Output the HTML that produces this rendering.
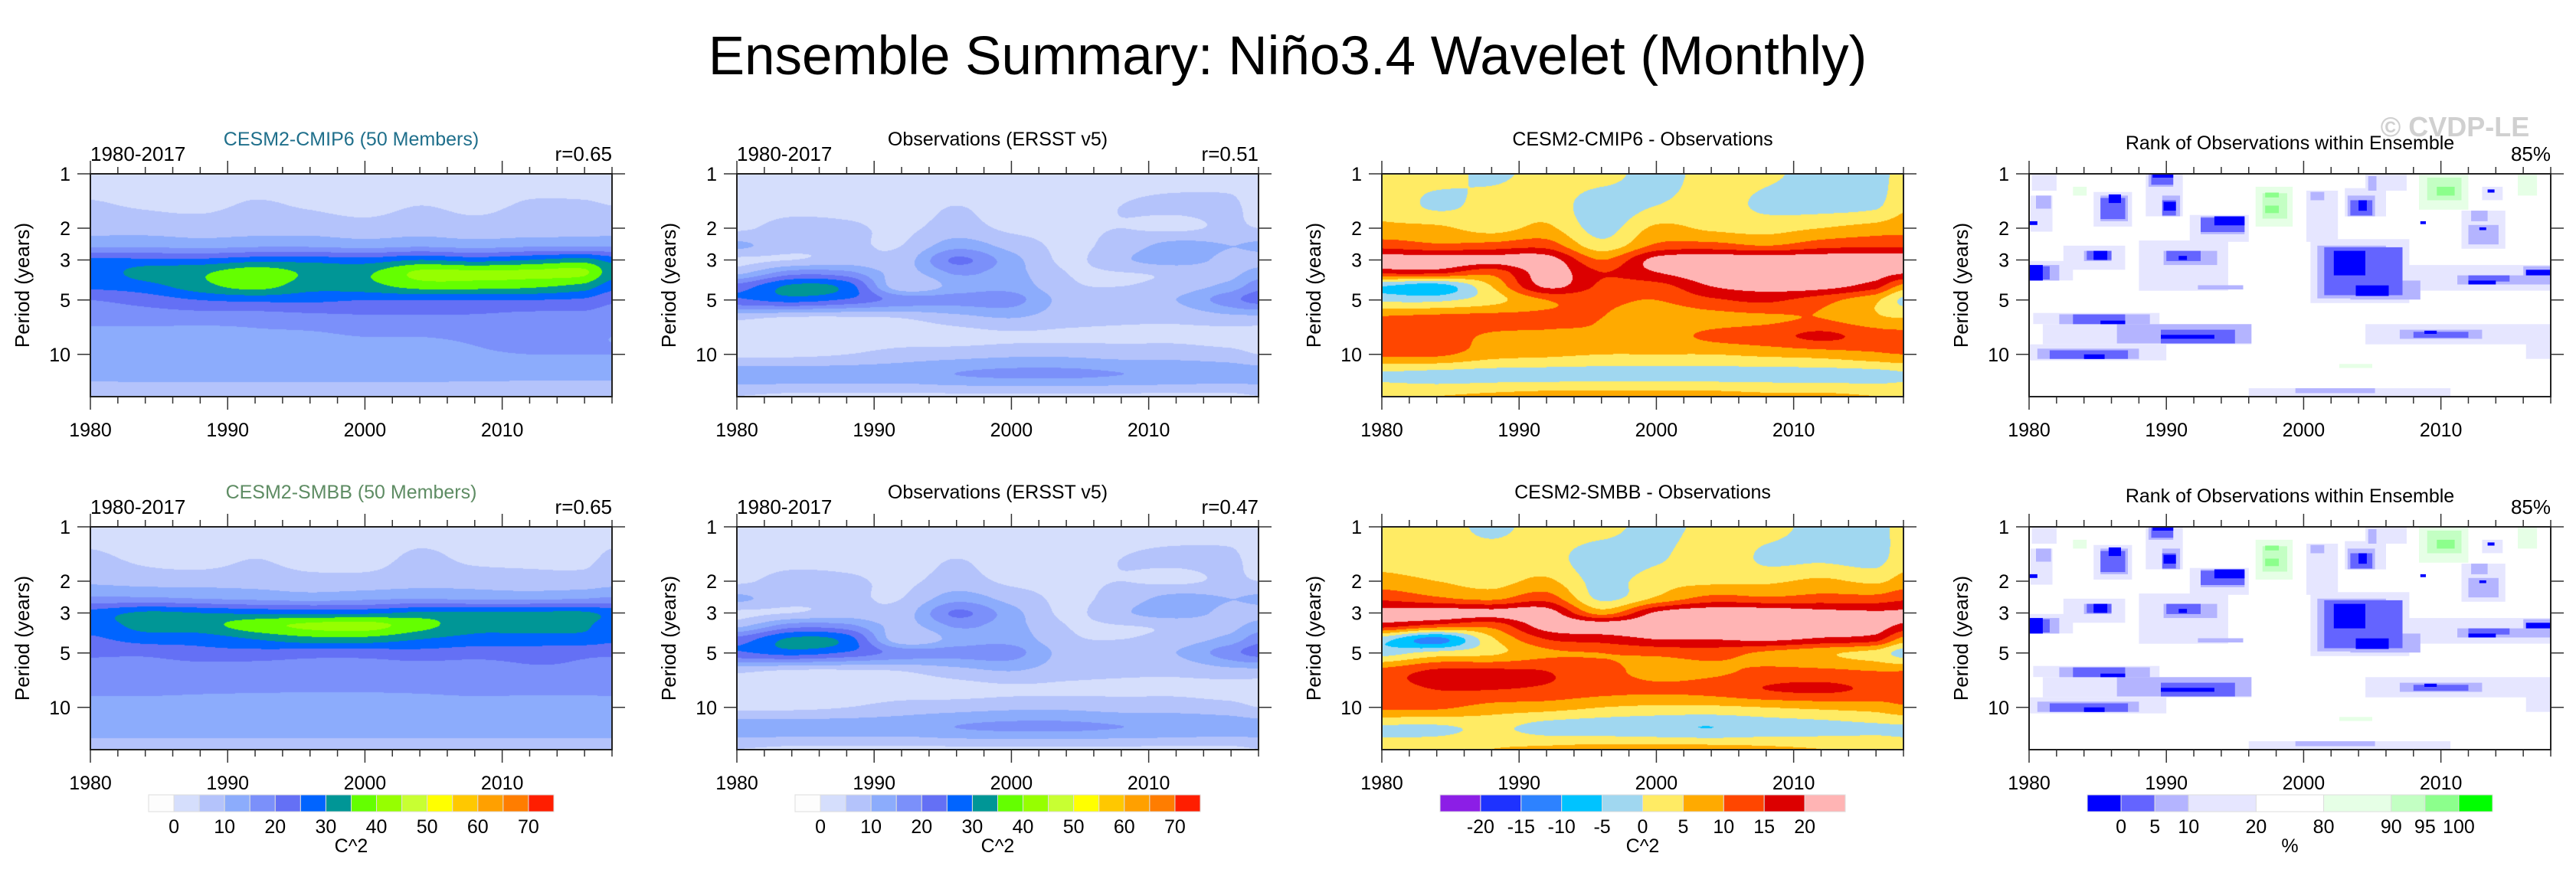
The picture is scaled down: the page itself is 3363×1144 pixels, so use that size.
<!DOCTYPE html>
<html><head><meta charset="utf-8">
<style>
html,body{margin:0;padding:0;background:#fff;}
#wrap{position:relative;width:3363px;height:1144px;overflow:hidden;background:#fff;}
canvas{position:absolute;}
svg{position:absolute;left:0;top:0;}
text{font-family:"Liberation Sans",sans-serif;}
</style></head>
<body>
<div id="wrap">
<svg id="svg" width="3363" height="1144"></svg>
</div>
<script>
// ---------- data ----------
const years = [1980,1984,1988,1992,1996,2000,2004,2008,2012,2016,2018];
const periods = [1,1.5,2,2.5,3,3.5,4.2,5,6.3,8,10,13,17];
const powerBounds = [0,5,10,15,20,25,30,35,40,45,50,55,60,65,70];
const powerColors = ["#fdfdfd","#d5defc","#b4c3fb","#8cacfc","#7b90fa","#6470f5","#0064ff","#009696","#64ff00","#96ff00","#c8ff32","#ffff00","#ffc800","#ffa000","#ff7d00","#ff1e00"];
const powerTicks = ["0","","10","","20","","30","","40","","50","","60","","70"];
const diffBounds = [-20,-15,-10,-5,0,5,10,15,20];
const diffColors = ["#8c1ee6","#1e32ff","#2d82ff","#00c3ff","#a0d7f0","#ffeb64","#ffaa00","#ff4600","#dc0000","#ffb4b4"];
const diffTicks = ["-20","-15","-10","-5","0","5","10","15","20"];
const rankBounds = [0,5,10,20,80,90,95,100];
const rankColors = ["#0000ff","#6464ff","#b4b4ff","#e6e6ff","#ffffff","#e6ffe6","#c3ffc3","#8cff8c","#00ff00"];
const rankTicks = ["0","5","10","20","80","90","95","100"];
const yTicks = [1,2,3,5,10];
const xTickLabels = [1980,1990,2000,2010];

const cmip6Power = [
[3,3,3,3,3,3,3,3,3,3,3],
[5.5,4.5,4,5.5,4.5,3.5,5,4,5.5,5.5,5],
[8,8,7.5,8,8,7,8,7,7.5,8,8],
[14,14,13,14,14,13,14,13,14,14,14],
[26,26,26,28,28,27,30,28,30,32,28],
[27,32,34,38,34,34,41,41,41,41,32],
[26,28,33,37,32,33,37,37,36,33,27],
[20,22,25,26,26,25,25,25,25,24,21],
[17,17,17,17,18,19,19,19,18,18,17],
[13,13,13,14,14,15,15,16,17,16,15],
[14,12,12,12,12,12,12,14,15,15,15],
[11,11,11,11,11,11,11,11,11,11,11],
[8,8,8,8,8,8,8,8,8,8,8]];
const obsPower = [
[3,3,3,3,3,3,3,3,3,3,3],
[3,3,3,3,5,3,3,5,6,6,3],
[4,7,6,4,7,4,4,5,4,6,5],
[11,7,6,5,13,8,4,7,12,10,11],
[4,5,7,7,21,12,4,9,13,8,8],
[8,17,16,8,16,12,5,5,6,8,12],
[22,31,28,6,12,13,6,5,7,12,18],
[24,27,24,18,17,17,8,8,10,18,22],
[6,4,4,5,8,10,7,6,6,8,8],
[3,3,3,3,3,4,4,4,4,3,3],
[4,4,5,7,8,9,9,8,8,7,5],
[13,13,13,13,15,16,16,15,14,13,13],
[5,4,4,4,4,4,4,4,4,4,5]];
const cmip6Diff = [
[2,2,-1,2,2,-2,2,1,-2,-2,2],
[4,-1,2,3,-3,0,2,-1,-2,-1,4],
[6,6,3,6,-2,6,4,3,5,7,8],
[13,11,12,13,2,11,12,10,13,14,14],
[23,23,22,23,10,22,24,24,24,24,24],
[17,17,12,23,15,20,24,24,24,23,21],
[-5,-8,5,21,14,13,20,22,22,17,8],
[-1,-1,3,10,11,10,14,16,12,6,-1],
[11,12,12,11,10,7,8,9,10,6,5],
[13,13,9,9,9,8,11,13,16,13,12],
[11,11,7,6,5,5,5,6,7,9,10],
[-1,-2,-2,-2,-2,-2,-2,-2,-2,-2,-1],
[5,5,6,7,7,7,7,6,6,5,5]];
const smbbPower = [
[3,3,3,3,3,3,3,3,3,3,3],
[6,4,3,5,3,3,6,4,4,4,6],
[9,8,8,8,7,7,8,8,7,7,8],
[16,16,15,14,13,14,15,14,14,15,16],
[27,31,30,29,29,29,31,31,31,31,28],
[27,32,33,38,41,42,37,32,32,31,27],
[24,27,27,30,33,33,30,28,28,28,26],
[21,21,23,23,22,22,23,22,22,21,21],
[17,17,17,17,17,17,17,17,19,19,17],
[16,16,15.6,15.4,15.3,15.3,15.5,16,16,16,16],
[13,13,13,13,13,13,13,13,13,13,13],
[12,12,12,12,12,12,12,12,12,12,12],
[8,8,8,8,8,8,8,8,8,8,8]];
const smbbDiff = [
[2,2,-1,2,2,-2,2,2,-2,-2,2],
[3,2,2,2,-3,-1,4,-1,-1,-2,3],
[7,5,3,6,-2,3,4,4,6,4,7],
[14,11,9,13,-1,6,12,11,12,12,14],
[22,23,22,23,8,21,24,24,22,21,21],
[18,14,12,23,23,24,24,24,24,23,19],
[-3,-12,4,15,17,20,20,21,19,17,8],
[-2,2,4,9,10,11,12,9,6,3,-2],
[12,16,16,15,12,8,9,11,11,10,10],
[13,15,15,14,12,11,12,15,16,14,13],
[11,11,8,7,5,4,4,5,6,7,9],
[-1,-1,1,-2,-3,-4,-5,-3,-2,-1,-1],
[3,4,5,6,7,7,7,6,5,4,3]];

// rank-of-observation patches: year range, period range, percentile
const rankYear0 = [1980.2,1980.1,1984.7,1988.5,1991.7,1982.5,1988,1980,2000.2,2000.5,2003,2004.5,2007.7,2011.5,2013,1980.3,1981,1980,2004.5,2016.2,1996,
 1980.5,1985.2,1988.7,1989.7,1992.5,1984,1989.8,1992.3,1980,2001,2003.4,2011.2,2016,1982.2,1986.4,1980.6,2007,1999.4,2012,2012.2,2003.2,2004.7,2000.5,
 1983.2,1989.6,1981.5,2001.5,2008,2012,1990,1992.5,1985.2,1989.7,1984.2,1980,2003.4,1988.9,
 1985.2,1989.6,1984,2002.2,2003.8,2012,2016.2,1980,1984.7,1990.9,1989.8,1985.8,1993.5,2004,2008.8,2012.8,2013.4,2008.5,1980,1989,
 1996.5,2008.4,2015.6,1983.2,2002.6,1997,2009,1997.2,2009.7,1997.2];
const rankYear1 = [1982,1981.7,1987.5,1991.2,1996,1987,1994.5,1983.2,2002.5,2007.7,2006,2007.5,2018,2014.7,2014.5,1989.5,1996.2,1990,2018,2018,2010.7,
 1981.6,1987.2,1990.5,1991,1995.7,1986,1993.7,1995.6,1982.2,2006,2008.5,2018,2018,1988.8,1996.2,1988,2013,2005.2,2014.2,2013.4,2005.2,2005.3,2001.5,
 1987,1995,1987.2,2007.2,2012,2015,1992.5,1995.7,1987,1990.7,1986,1981.5,2005,1990.5,
 1987,1993.5,1985.5,2004.5,2006.2,2014,2018,1981,1985.7,1991.5,1990.7,1986.7,1995.7,2004.6,2009.7,2013.3,2013.9,2008.9,1980.6,1990.5,
 1999.2,2012,2017,1984.2,2005,1998.8,2011.5,1998.2,2011,1998.2];
const rankPer0 = [1,1.32,1.26,1,1.69,2.5,2.34,3.04,1.24,2.3,1.2,1,3.2,1.6,1.18,5.9,6.8,8.8,6.8,7.8,15.4,
 1.32,1.32,1,1.32,1.72,2.67,2.67,4.14,3.2,2.5,3.9,3.65,3.25,6,6.8,9.3,7.3,15.4,1.92,1.6,1.32,1.03,1.26,
 6,7.3,9.5,2.55,7.5,3.65,2.67,1.75,1.36,1.4,2.67,3.25,1.4,1,
 6.5,7.8,10,2.67,4.15,3.9,3.4,3.2,2.67,2.85,1.43,1.3,1.72,1.4,7.4,1.98,1.22,1.83,1.83,1,
 1.18,1,1,1.18,11.3,1.28,1.05,1.27,1.18,1.5];
const rankPer1 = [1.24,2.09,1.96,1.72,2.38,3.4,4.44,3.9,2.38,5.2,1.72,1.24,4.44,2.6,1.4,6.8,8.8,10.8,8.8,10.6,17.1,
 1.56,1.83,1.18,1.72,2.16,3.04,3.2,4.37,3.9,4.9,4.97,4.1,3.9,6.8,8.7,10.6,8.2,16.4,2.46,1.83,1.72,1.24,1.4,
 6.8,8.7,10.6,4.7,8.1,3.95,3.04,2.1,1.78,1.7,3.0,3.85,1.7,1.15,
 6.8,8.2,10.6,3.65,4.75,4.1,3.65,3.9,3,3.0,1.6,1.45,1.93,1.6,7.7,2.05,1.27,1.9,1.92,1.05,
 1.96,1.58,1.32,1.32,11.9,1.77,1.4,1.35,1.32,1.65];
const rankLevel = [15,15,15,15,15,15,15,15,15,15,15,15,15,15,15,15,15,15,15,15,15,
 7,7,7,7,7,7,7,7,7,7,7,7,7,7,7,7,7,7,7,7,7,7,7,
 3,3,3,3,3,3,3,3,3,3,3,3,3,3,
 0,0,0,0,0,0,0,0,0,0,0,0,0,0,0,0,0,0,0,0,
 85,85,85,85,85,92,92,97,97,97];

// ---------- layout ----------
const colX = [118,962,1804,2649];
const rowY = [227,688];
const PW = 681, PH = 291;
const NS = "http://www.w3.org/2000/svg";
const svg = document.getElementById('svg');
const wrap = document.getElementById('wrap');

function el(tag, attrs, parent){
  const e = document.createElementNS(NS, tag);
  for (const k in attrs) e.setAttribute(k, attrs[k]);
  (parent||svg).appendChild(e);
  return e;
}
function txt(x,y,s,size,anchor,fill,extra){
  const t = el('text',{x:x,y:y,'font-size':size,'text-anchor':anchor||'middle',fill:fill||'#000'});
  if (extra) for (const k in extra) t.setAttribute(k, extra[k]);
  t.textContent = s;
  return t;
}
function xScale(x0, yr){ return x0 + (yr-1980)/38*PW; }
function yScale(y0, p){ return y0 + Math.log2(p)/4.1*PH; }
function colorIndex(bounds, v){ let i=0; for (const b of bounds) if (v>=b) i++; return i; }
function rankColorIdx(v){ let i=0; for (const b of rankBounds) if (v>b) i++; return i; }
function hex(c){ return [parseInt(c.slice(1,3),16),parseInt(c.slice(3,5),16),parseInt(c.slice(5,7),16)]; }

// ---------- interpolation for contour fields ----------
const lps = periods.map(p=>Math.log2(p));
function fracIndex(arr, v){
  if (v<=arr[0]) return 0;
  for (let i=0;i<arr.length-1;i++) if (v<=arr[i+1]) return i + (v-arr[i])/(arr[i+1]-arr[i]);
  return arr.length-1;
}
function cr(a,b,c,d,t){
  return b + 0.5*t*(c-a + t*(2*a-5*b+4*c-d + t*(3*(b-c)+d-a)));
}
function sample(grid, fi, fj){
  const nr = grid.length, nc = grid[0].length;
  const i = Math.min(Math.floor(fi), nr-2), ti = fi - i;
  const j = Math.min(Math.floor(fj), nc-2), tj = fj - j;
  const rows = [];
  for (let k=-1;k<=2;k++){
    const r = grid[Math.max(0,Math.min(nr-1,i+k))];
    const g = q=>r[Math.max(0,Math.min(nc-1,q))];
    rows.push(cr(g(j-1),g(j),g(j+1),g(j+2),tj));
  }
  return cr(rows[0],rows[1],rows[2],rows[3],ti);
}
function drawField(x0,y0,grid,bounds,colors,name){
  const cv = document.createElement('canvas');
  cv.width = PW; cv.height = PH;
  cv.style.left = x0+'px'; cv.style.top = y0+'px';
  
  
  wrap.insertBefore(cv, svg);
  const ctx = cv.getContext('2d');
  const img = ctx.createImageData(PW,PH);
  const rgb = colors.map(hex);
  const fjs = [];
  for (let x=0;x<PW;x++) fjs.push(fracIndex(years, 1980 + (x+0.5)/PW*38));
  for (let y=0;y<PH;y++){
    const fi = fracIndex(lps, (y+0.5)/PH*4.1);
    for (let x=0;x<PW;x++){
      const v = sample(grid, fi, fjs[x]);
      const c = rgb[colorIndex(bounds, v)];
      const o = (y*PW+x)*4;
      img.data[o]=c[0]; img.data[o+1]=c[1]; img.data[o+2]=c[2]; img.data[o+3]=255;
    }
  }
  ctx.putImageData(img,0,0);
}

function drawAxes(x0,y0,name){
  const g = el('g',{});
  
  
  for (let yr=1980; yr<=2018; yr+=2){
    const x = xScale(x0, yr);
    const L = (yr%10===0)?17:9;
    el('line',{x1:x,y1:y0,x2:x,y2:y0-L,stroke:'#333','stroke-width':1.5},g);
    el('line',{x1:x,y1:y0+PH,x2:x,y2:y0+PH+L,stroke:'#333','stroke-width':1.5},g);
  }
  yTicks.forEach(p=>{
    const y = yScale(y0,p);
    el('line',{x1:x0-17,y1:y,x2:x0,y2:y,stroke:'#333','stroke-width':1.5},g);
    el('line',{x1:x0+PW,y1:y,x2:x0+PW+17,y2:y,stroke:'#333','stroke-width':1.5},g);
    txt(x0-26, y+9, String(p), 25, 'end');
  });
  xTickLabels.forEach(yr=>{
    txt(xScale(x0,yr), y0+PH+52, String(yr), 25, 'middle');
  });
  el('rect',{x:x0,y:y0,width:PW,height:PH,fill:'none',stroke:'#222','stroke-width':2},g);
  const t = txt(x0-80, y0+PH/2, 'Period (years)', 26, 'middle', '#000', {transform:`rotate(-90 ${x0-80} ${y0+PH/2})`});
  
  
}
function drawColorbar(cx, y, colors, ticks, unit, widths, name){
  const g = el('g',{});
  
  
  const total = widths.reduce((a,b)=>a+b,0);
  const W = 529, unitW = W/total;
  let x = cx - W/2;
  const edges = [];
  colors.forEach((c,i)=>{
    const w = widths[i]*unitW;
    el('rect',{x:x,y:y,width:w,height:22,fill:c,stroke:'#ddd','stroke-width':1},g);
    x += w; edges.push(x);
  });
  ticks.forEach((s,i)=>{ txt(edges[i], y+50, s, 25, 'middle', '#000'); });
  txt(cx, y+75, unit, 25, 'middle', '#000');
}

// ---------- build ----------
const title = txt(1681, 97, 'Ensemble Summary: Niño3.4 Wavelet (Monthly)', 71, 'middle');


const wm = txt(3205, 178, '© CVDP-LE', 36, 'middle', '#d0d0d0', {'font-weight':'bold'});



const rowsInfo = [
 {power:cmip6Power, diff:cmip6Diff, model:'CESM2-CMIP6 (50 Members)', mcol:'#1f6f8b', r1:'r=0.65', r2:'r=0.51', dtitle:'CESM2-CMIP6 - Observations'},
 {power:smbbPower, diff:smbbDiff, model:'CESM2-SMBB (50 Members)', mcol:'#5e8c63', r1:'r=0.65', r2:'r=0.47', dtitle:'CESM2-SMBB - Observations'}
];
rowsInfo.forEach((R,ri)=>{
  const y0 = rowY[ri];
  const tag = ri===0?'cmip6':'smbb';
  drawField(colX[0], y0, R.power, powerBounds, powerColors, tag+'-power-field');
  drawField(colX[1], y0, obsPower, powerBounds, powerColors, 'obs-power-field-'+(ri+1));
  drawField(colX[2], y0, R.diff, diffBounds, diffColors, tag+'-diff-field');
  const g = el('g',{});
  
  
  el('rect',{x:colX[3],y:y0,width:PW,height:PH,fill:'#fff'},g);
  const order = rankLevel.map((_,i)=>i).sort((a,b)=>Math.abs(rankLevel[a]-50)-Math.abs(rankLevel[b]-50));
  order.forEach(i=>{
    const xa = xScale(colX[3], rankYear0[i]), xb = xScale(colX[3], rankYear1[i]);
    const ya = yScale(y0, rankPer0[i]), yb = yScale(y0, rankPer1[i]);
    const r = el('rect',{x:xa.toFixed(1),y:ya.toFixed(1),width:(xb-xa).toFixed(1),height:(yb-ya).toFixed(1),fill:rankColors[rankColorIdx(rankLevel[i])]},g);
    
    
  });
  for (let c=0;c<4;c++) drawAxes(colX[c], y0, 'axes-r'+(ri+1)+'-c'+(c+1));
  txt(colX[0], y0-17, '1980-2017', 26, 'start');
  txt(colX[0]+PW, y0-17, R.r1, 26, 'end');
  txt(colX[0]+PW/2, y0-37, R.model, 25, 'middle', R.mcol);
  txt(colX[1], y0-17, '1980-2017', 26, 'start');
  txt(colX[1]+PW, y0-17, R.r2, 26, 'end');
  txt(colX[1]+PW/2, y0-37, 'Observations (ERSST v5)', 25, 'middle');
  txt(colX[2]+PW/2, y0-37, R.dtitle, 25, 'middle');
  txt(colX[3]+PW/2, y0-32, 'Rank of Observations within Ensemble', 25, 'middle');
  txt(colX[3]+PW, y0-17, '85%', 26, 'end');
});

const pw = powerColors.map(()=>1);
drawColorbar(colX[0]+PW/2, 1038, powerColors, powerTicks, 'C^2', pw, 'power-colorbar-1');
drawColorbar(colX[1]+PW/2, 1038, powerColors, powerTicks, 'C^2', pw, 'power-colorbar-2');
drawColorbar(colX[2]+PW/2, 1038, diffColors, diffTicks, 'C^2', diffColors.map(()=>1), 'diff-colorbar');
drawColorbar(colX[3]+PW/2, 1038, rankColors, rankTicks, '%', [1,1,1,2,2,2,1,1,1], 'rank-colorbar');
</script>
</body></html>
